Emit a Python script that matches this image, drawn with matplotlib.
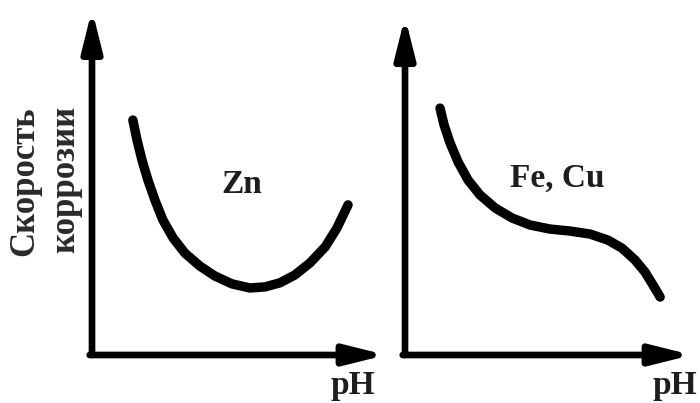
import matplotlib.pyplot as plt

# schematic curves, arbitrary units 0..10 on both axes
zn_ph = [1.39, 1.53, 1.70, 1.90, 2.14, 2.41, 2.76, 3.16, 3.67, 4.18,
         4.76, 5.37, 5.88, 6.39, 6.90, 7.41, 7.93, 8.33, 8.71]
zn_rate = [6.87, 6.29, 5.70, 5.12, 4.53, 3.95, 3.42, 2.98, 2.60, 2.31,
           2.08, 1.96, 1.99, 2.11, 2.34, 2.69, 3.16, 3.71, 4.39]

fecu_ph = [1.22, 1.36, 1.57, 1.85, 2.20, 2.61, 3.14, 3.73, 4.36, 5.05,
           5.75, 6.45, 7.07, 7.56, 8.01, 8.36, 8.64, 8.89]
fecu_rate = [7.37, 6.87, 6.33, 5.76, 5.22, 4.78, 4.39, 4.09, 3.88, 3.76,
             3.70, 3.61, 3.43, 3.19, 2.84, 2.48, 2.09, 1.73]

labels = ['Zn', 'Fe, Cu']
y_title = ['Скорость', 'коррозии']
x_title = 'pH'

W, H = 700, 403
fig = plt.figure(figsize=(7, 4.03), dpi=100)

serif = ['Liberation Serif', 'DejaVu Serif']
txt_col = '#1e1e1e'


def panel(left, right, top, px, py, name, lx, ly):
    ax = fig.add_axes([left / W, (H - 355) / H, (right - left) / W, (355 - top) / H])
    ax.set_xlim(0, 10)
    ax.set_ylim(0, 10)
    ax.axis('off')
    ax.plot(px, py, color='black', lw=6.8, solid_capstyle='round')
    arrow = dict(arrowstyle='-|>,head_length=1.2,head_width=0.3', lw=4.8,
                 color='black', shrinkA=0, shrinkB=0, mutation_scale=20)
    ax.annotate('', xy=(0, 1.01), xytext=(0, 0), xycoords='axes fraction',
                arrowprops=arrow)
    ax.annotate('', xy=(1, 0), xytext=(-0.008, 0), xycoords='axes fraction',
                arrowprops=arrow)
    fig.text(lx / W, 1 - ly / H, name, ha='center', va='baseline',
             fontsize=24, fontweight='bold', family=serif, color=txt_col)
    return ax


panel(92, 386, 13, zn_ph, zn_rate, labels[0], 242, 193)
panel(405, 692, 20, fecu_ph, fecu_rate, labels[1], 557, 187)

fig.text(353 / W, 1 - 394 / H, x_title, ha='center', va='baseline',
         fontsize=24, fontweight='bold', family=serif, color=txt_col)
fig.text(675 / W, 1 - 394 / H, x_title, ha='center', va='baseline',
         fontsize=24, fontweight='bold', family=serif, color=txt_col)

for i, t in enumerate(y_title):
    fig.text((25 + 41 * i) / W, 1 - 106 / H, t, rotation=90, ha='center',
             va='top', fontsize=25, fontweight='bold', family=serif,
             color='#2a2a2a')

fig.savefig('out.png', dpi=100)
